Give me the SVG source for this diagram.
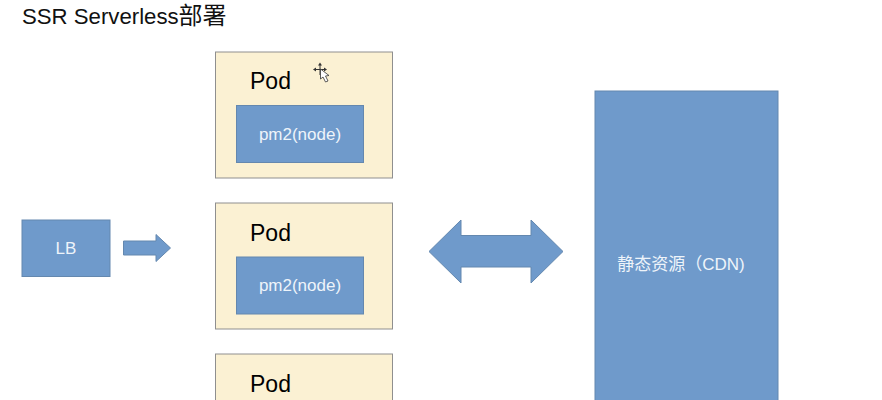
<svg xmlns="http://www.w3.org/2000/svg" width="882" height="400" viewBox="0 0 882 400">
<style>
text{font-family:"Liberation Sans","Noto Sans CJK SC",sans-serif}
.pod{fill:#fbf1d3;stroke:#8f8f8f;stroke-width:1}
.blue{fill:#6f9acb;stroke:#6488af;stroke-width:1}
.w{fill:#eef4fa;font-size:17px;text-anchor:middle}
.p{fill:#000;font-size:23px}
</style>
<rect width="882" height="400" fill="#fff"/>
<text x="22" y="24" font-size="22.200" fill="#111">SSR Serverless<tspan font-size="24">部署</tspan></text>
<g id="lb"><rect class="blue" x="22" y="220" width="88" height="56.500"/><text class="w" x="66" y="254">LB</text></g>
<g id="pod1"><rect class="pod" x="215.500" y="52" width="177" height="126"/><text class="p" x="250" y="89">Pod</text><rect class="blue" x="236.500" y="105.500" width="127" height="57"/><text class="w" x="300" y="140">pm2(node)</text></g>
<g id="pod2"><rect class="pod" x="215.500" y="203" width="177" height="126"/><text class="p" x="250" y="241">Pod</text><rect class="blue" x="236.500" y="257" width="127" height="57"/><text class="w" x="300" y="291">pm2(node)</text></g>
<g id="pod3"><rect class="pod" x="215.500" y="354" width="177" height="126"/><text class="p" x="250" y="392">Pod</text></g>
<g id="cdn"><rect class="blue" x="595" y="91" width="183" height="340"/><text class="w" x="681" y="270">静态资源（CDN)</text></g>
<g id="connectors">
<polygon class="blue" points="123.500,241 156,241 156,234.500 170.500,248 156,261.500 156,255 123.500,255"/>
<polygon class="blue" points="429,251.500 461,220 461,235.500 531,235.500 531,220 563,251.500 531,283 531,267 461,267 461,283"/>
</g>
<g id="cursor" fill="#333" stroke="#333" stroke-width="0.800">
<path d="M320 65V75M315 69.500H325" fill="none" stroke-width="1"/>
<path d="M320 62.500l2 3h-4zM313 69.500l3-2v4zM327 69.500l-3-2v4z" stroke="none"/>
<path d="M320.500 69 L320.500 79 L323 77 L325.500 82 L328 81 L325.500 76 L329 75.500Z" fill="#fff"/>
</g>
</svg>
